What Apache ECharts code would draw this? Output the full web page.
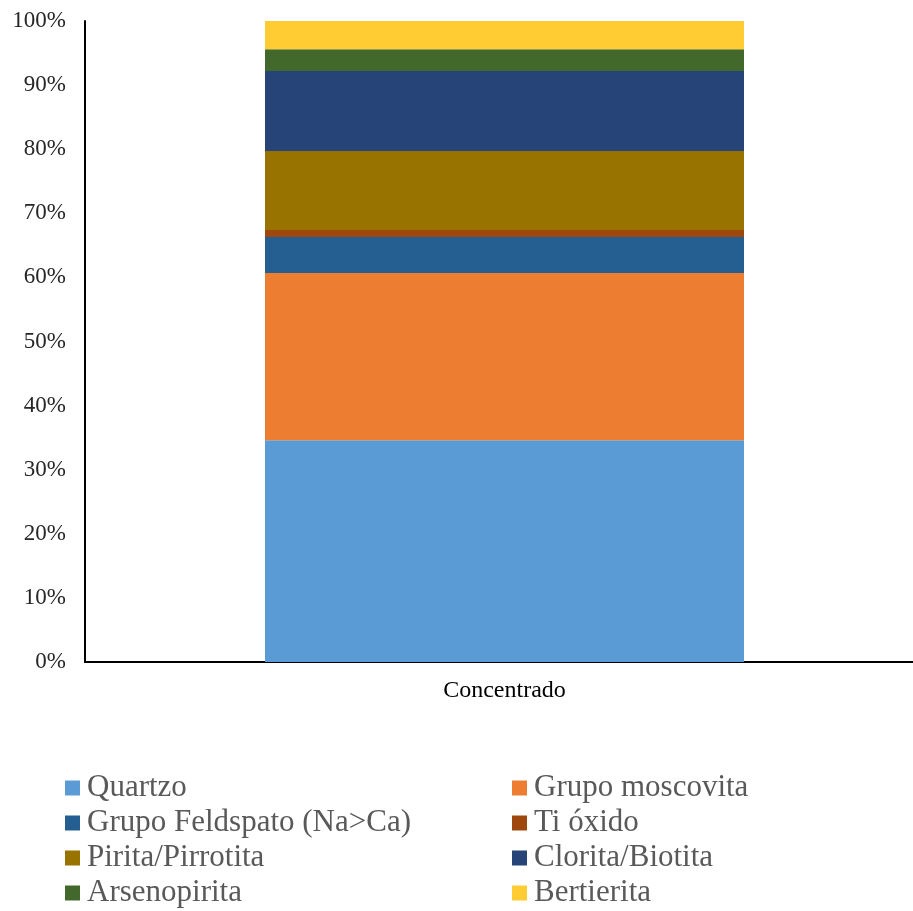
<!DOCTYPE html>
<html>
<head>
<meta charset="utf-8">
<script src="https://cdn.jsdelivr.net/npm/echarts@6/dist/echarts.min.js"></script>
<style>
  html, body { margin: 0; padding: 0; background: #fff; overflow: hidden; }
  /* the plot area runs a little past the right edge of the page */
  #chart { width: 924px; height: 911px; }
</style>
</head>
<body>
<div id="chart"></div>
<script>
// Mineral composition of the concentrate (% of total)
const categories = ['Concentrado'];
const mineralNames = [
  'Quartzo', 'Grupo moscovita', 'Grupo Feldspato (Na>Ca)', 'Ti óxido',
  'Pirita/Pirrotita', 'Clorita/Biotita', 'Arsenopirita', 'Bertierita'
];
const quartzo = [34.6];
const grupoMoscovita = [26.1];
const grupoFeldspato = [5.6];
const tiOxido = [1.1];
const piritaPirrotita = [12.3];
const cloritaBiotita = [12.5];
const arsenopirita = [3.4];
const bertierita = [4.4];
const yTicks = [0, 10, 20, 30, 40, 50, 60, 70, 80, 90, 100];

const seriesValues = [
  quartzo, grupoMoscovita, grupoFeldspato, tiOxido,
  piritaPirrotita, cloritaBiotita, arsenopirita, bertierita
];
const colors = [
  '#5B9BD5', '#ED7D31', '#255E91', '#9E480E',
  '#997300', '#264478', '#43682B', '#FFCD33'
];

const serif = '"Liberation Serif", "Times New Roman", serif';

const legendCommon = {
  orient: 'vertical',
  top: 772,
  height: 139,
  padding: 0,
  itemWidth: 15,
  itemHeight: 15,
  itemGap: 3,
  icon: 'rect',
  textStyle: {
    fontFamily: serif,
    fontSize: 31,
    color: '#595959',
    lineHeight: 32,
    padding: [0, 0, 0, 2]
  }
};

const chart = echarts.init(document.getElementById('chart'));
chart.setOption({
  animation: false,
  color: colors,
  grid: { left: 85, right: 0, top: 21, height: 641, containLabel: false },
  legend: [
    Object.assign({ left: 65, data: [mineralNames[0], mineralNames[2], mineralNames[4], mineralNames[6]] }, legendCommon),
    Object.assign({ left: 512, data: [mineralNames[1], mineralNames[3], mineralNames[5], mineralNames[7]] }, legendCommon)
  ],
  xAxis: {
    type: 'category',
    data: categories,
    axisLine: { lineStyle: { color: '#000', width: 2 } },
    axisTick: { show: false },
    axisLabel: { fontFamily: serif, fontSize: 24, color: '#000', margin: 17 }
  },
  yAxis: {
    type: 'value',
    min: yTicks[0],
    max: yTicks[yTicks.length - 1],
    interval: 10,
    axisLine: { show: true, lineStyle: { color: '#000', width: 2 } },
    axisTick: { show: false },
    splitLine: { show: false },
    axisLabel: {
      fontFamily: serif, fontSize: 23, color: '#262626', margin: 19,
      padding: [3, 0, 0, 0],
      formatter: '{value}%'
    }
  },
  series: mineralNames.map((name, i) => ({
    name: name,
    type: 'bar',
    stack: 'total',
    barWidth: 479,
    data: seriesValues[i]
  }))
});
</script>
</body>
</html>
